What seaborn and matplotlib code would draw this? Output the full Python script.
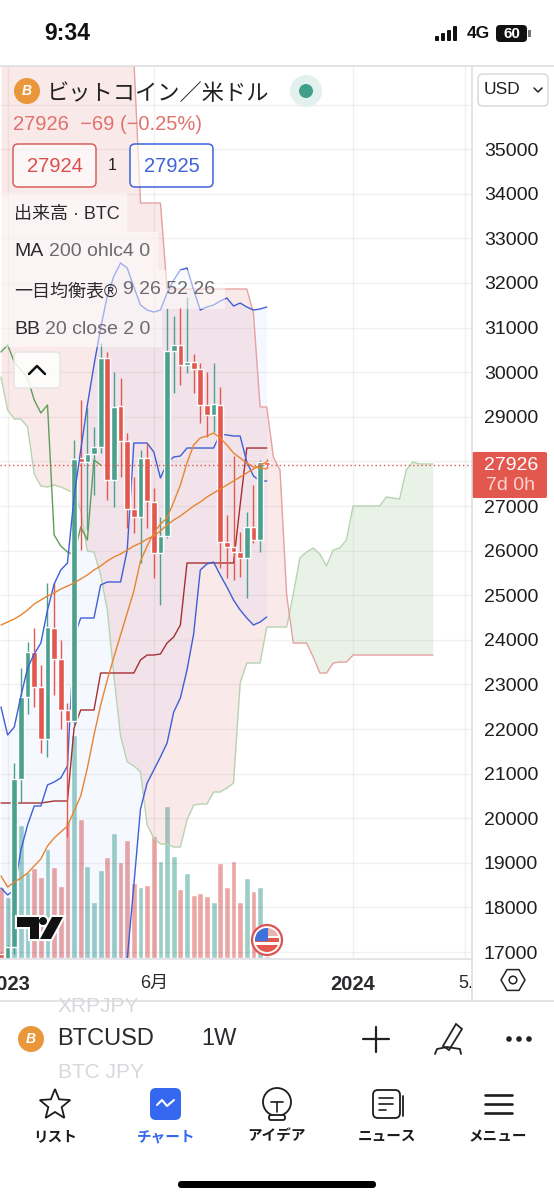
import matplotlib
matplotlib.use("Agg")
import matplotlib.pyplot as plt
import numpy as np
import pandas as pd
import seaborn as sns
from matplotlib.patches import Circle, FancyBboxPatch, Polygon, Rectangle

# weekly candles, BTCUSD
opens = [16960, 16800, 17113, 20879, 22718, 23727, 22942, 21776, 24265, 23570, 22426, 22180, 28076, 27986, 28166,
         28323, 30318, 27583, 29242, 28457, 26933, 26753, 28076, 27090, 25946, 26327, 30475, 30610, 30161, 30228,
         30072, 29264, 29040, 29264, 26193, 26081, 25969, 25834, 26529, 26238, 27995]
closes = [16866, 17113, 20879, 22718, 23727, 22942, 21776, 24287, 23570, 22426, 22180, 28054, 27986, 28166, 28323,
          30318, 27583, 29220, 28457, 26933, 26753, 28076, 27112, 25946, 26327, 30475, 30610, 30161, 30228, 30072,
          29264, 29040, 29287, 26193, 26081, 25969, 25834, 26529, 26238, 27986, 27926]
highs = [17000, 17150, 21238, 23368, 23951, 24265, 23435, 25274, 25274, 23996, 22583, 28480, 29377, 29197, 28771,
         30654, 30453, 30004, 29870, 28637, 27650, 28256, 28412, 27404, 26753, 31439, 31260, 31462, 31686, 30408,
         30206, 30004, 30206, 29668, 26798, 28121, 26417, 26865, 27471, 28031, 28050]
lows = [16800, 16780, 16950, 20364, 22337, 22494, 21462, 21373, 22763, 22000, 19579, 22100, 26013, 26462, 27247,
        28188, 27135, 26978, 27650, 26507, 26395, 25722, 26507, 25386, 24780, 26283, 29533, 29713, 29982, 29533,
        28861, 28547, 28659, 25610, 25386, 25341, 25408, 24937, 26170, 25969, 27850]
volumes = [212, 182, 232, 400, 257, 269, 244, 327, 272, 216, 407, 669, 417, 275, 169, 264, 304, 374, 287, 354, 225,
           214, 219, 367, 292, 456, 305, 206, 255, 189, 196, 186, 169, 284, 214, 292, 169, 240, 200, 214, 7]

ma200 = [24332, 24399, 24467, 24556, 24668, 24803, 24893, 24982, 25049, 25139, 25206, 25274, 25363, 25453, 25565,
         25655, 25767, 25857, 25924, 26013, 26103, 26170, 26260, 26327, 26440, 26574, 26686, 26776, 26888, 27000,
         27090, 27202, 27291, 27381, 27471, 27561, 27650, 27740, 27830, 27919, 27986]
bb_basis = [18705, 18458, 18570, 18660, 18772, 18929, 19086, 19377, 19557, 19691, 19826, 20162, 20498, 21126, 21866,
            22538, 23099, 23615, 24108, 24601, 25094, 25767, 26103, 26395, 26596, 26731, 27090, 27471, 27964, 28368,
            28525, 28569, 28637, 28525, 28368, 28188, 28076, 27964, 27874, 27852, 27830]
bb_upper = [22494, 21866, 22045, 22740, 23368, 23682, 23928, 24668, 25251, 25565, 25722, 27202, 28256, 29264, 30161,
            30991, 31708, 32157, 32448, 32336, 31910, 31506, 31394, 31349, 31394, 31775, 32067, 32291, 32336, 31843,
            31394, 31462, 31506, 31596, 31663, 31484, 31551, 31462, 31394, 31417, 31462]
bb_lower = [15400, 15300, 15000, 14700, 14500, 14400, 14300, 14500, 14700, 14800, 14900, 14600, 14800, 15000, 15300,
            15600, 15900, 16200, 16400, 16844, 18503, 20207, 20790, 21081, 21373, 21686, 22381, 22695, 23323, 24130,
            25565, 25700, 25744, 25453, 25184, 24893, 24668, 24489, 24332, 24399, 24511]
tenkan = [18436, 18279, 18391, 19288, 19848, 20274, 20274, 20745, 20812, 20902, 21171, 24063, 24489, 24489, 24489,
          25229, 25296, 25296, 25296, 26013, 28412, 28412, 28412, 28211, 27628, 27964, 28099, 28121, 28300, 28300,
          28300, 28300, 28300, 28614, 28592, 28569, 28569, 27986, 27673, 27560, 27560]
kijun = [20341, 20341, 20341, 20341, 20341, 20341, 20341, 20363, 20386, 20386, 20386, 22023, 22426, 22426, 22426,
         23256, 23256, 23256, 23256, 23256, 23256, 23547, 23659, 23659, 23682, 23928, 24063, 24332, 25722, 25722,
         25722, 25722, 25722, 25722, 25722, 25722, 27022, 28300, 28300, 28300, 28300]
chikou = [30453, 30610, 30228, 30049, 29870, 29377, 29085, 29264, 26350, 26103, 25969, 25901, 26529, 26238, 28031, 27919]
senkou_a = [29892, 29152, 28951, 28951, 28771, 27717, 27448, 27426, 27471, 27426, 27359, 27291, 26910, 25991, 25969,
            25453, 24668, 23189, 21843, 21260, 21171, 21036, 19848, 19557, 19422, 19422, 19355, 19355, 19960, 20296,
            20319, 20319, 20588, 20588, 20678, 20790, 23032, 23480, 23480, 23480, 24287, 24287, 24287, 24287, 25027,
            25834, 25969, 26058, 25924, 25655, 26013, 26058, 26238, 27000, 27000, 27000, 27000, 27000, 27202, 27179,
            27157, 27807, 27986, 27942, 27942, 27942]
senkou_b = [41000] * 20 + [37000, 33793, 33793, 33793, 33793] + [31865] * 13 + [31327, 29220, 29220, 28099, 27807,
            25005, 23928, 23928, 23928, 23615, 23256, 23256, 23480, 23502, 23502] + [23659] * 13

last_price = 27926
price_ticks = list(range(17000, 37000, 1000))
price_labels = [str(p) for p in price_ticks[:-1]] + [""]
date_ticks = [1, 23, 53, 69.9]
date_labels = ["2023", "6月", "2024", "5."]

GREEN, RED = "#4ba08e", "#e2584f"
BLUE = "#3f5fd6"

sns.set_theme(style="white")
plt.rcParams["font.family"] = ["Liberation Sans", "Noto Sans CJK JP", "DejaVu Sans"]

fig = plt.figure(figsize=(5.54, 12), dpi=100, facecolor="white")
ax_vol = fig.add_axes([0, 242 / 1200, 472 / 554, 892 / 1200], zorder=1)
ax = ax_vol.twinx()
ax.set_zorder(2)
ax.patch.set_visible(False)

df = pd.DataFrame({"week": range(len(volumes)), "volume": volumes,
                   "side": ["up" if c >= o else "down" for o, c in zip(opens, closes)]})
sns.barplot(data=df, x="week", y="volume", hue="side", native_scale=True, dodge=False, width=0.88, saturation=1,
            palette={"up": "#9bcfc6", "down": "#eca6a4"}, legend=False, ax=ax_vol)
ax_vol.set_ylim(0, 2676)
ax_vol.set(xlabel="", ylabel="", yticks=[])
ax_vol.xaxis.set_visible(False)
ax.xaxis.set_visible(True)

# cloud and bollinger fill
cloud_x = np.arange(len(senkou_a))
a, b = np.array(senkou_a), np.array(senkou_b)
ax.fill_between(cloud_x, a, b, where=b >= a, interpolate=True, color="#e06666", alpha=0.14, lw=0, zorder=1)
ax.fill_between(cloud_x, a, b, where=a >= b, interpolate=True, color="#62a85a", alpha=0.14, lw=0, zorder=1)
ax.fill_between(range(len(bb_upper)), bb_lower, bb_upper, color="#2962ff", alpha=0.04, lw=0, zorder=1)


def draw_line(values, color, lw=1.0, z=2):
    sns.lineplot(x=range(len(values)), y=values, color=color, linewidth=lw, estimator=None, sort=False,
                 legend=False, zorder=z, ax=ax)


draw_line(senkou_a, "#b6d4b0")
draw_line(senkou_b, "#e5a2a2")
draw_line(chikou, "#5f9e56")
draw_line(kijun, "#a52f33")
draw_line(tenkan, BLUE)

colors = [GREEN if c >= o else RED for o, c in zip(opens, closes)]
weeks = range(len(opens))
ax.vlines(weeks, lows, highs, colors=colors, linewidth=1.0, zorder=3)
ax.bar(weeks, np.abs(np.subtract(closes, opens)), bottom=np.minimum(opens, closes), width=0.86, color=colors, zorder=3)

draw_line(bb_upper, BLUE, z=4)
draw_line(bb_lower, BLUE, z=4)
draw_line(bb_basis, "#e8842f", z=4)
draw_line(ma200, "#e8842f", z=4)
ax.axhline(last_price, color=RED, lw=1, ls=(0, (1, 2)), zorder=4)

ax.set_ylim(16866, 36865)
ax.set_xlim(-0.15, 70.9)
ax.set(xlabel="", ylabel="")
ax.yaxis.tick_right()
ax.set_yticks(price_ticks)
ax.set_yticklabels(price_labels)
ax.set_xticks(date_ticks)
ax.set_xticklabels(date_labels)
ax.tick_params(axis="y", length=0, pad=8.6, labelsize=14, labelcolor="#1e1e22")
ax.tick_params(axis="x", length=0, pad=12, labelsize=13, labelcolor="#2a2a2e")
for lab in ax.get_xticklabels():
    if lab.get_text().isdigit():
        lab.set_fontweight("bold")
        lab.set_fontsize(14.5)
ax.grid(True, color="black", alpha=0.055, lw=1, zorder=0)
ax.set_axisbelow(True)
for axis in (ax, ax_vol):
    sns.despine(ax=axis, left=True, right=True, top=True, bottom=True)

# app chrome, drawn in pixel coordinates
ui = fig.add_axes([0, 0, 1, 1], zorder=10)
ui.set_xlim(0, 554)
ui.set_ylim(1200, 0)
ui.axis("off")
ui.patch.set_visible(False)


def label(x, y, s, size=14, color="#1e1e22", ha="left", **kw):
    ui.text(x, y, s, fontsize=size, color=color, ha=ha, va="center", **kw)


def round_box(x0, y0, w, h, r, **kw):
    ui.add_patch(FancyBboxPatch((x0, y0), w, h, boxstyle=f"round,pad=0,rounding_size={r}", **kw))


def btc_icon(x, y):
    ui.add_patch(Circle((x, y), 13, color="#e9973a", lw=0))
    label(x, y, "B", size=10, color="white", ha="center", fontweight="bold", style="italic")


# status bar
label(44, 33, "9:34", size=16.5, color="#111", fontweight="bold")
for bar_x, bar_h in zip([435, 441, 447, 453], [5, 8, 11, 15]):
    round_box(bar_x, 41 - bar_h, 4, bar_h, 1, color="#111", lw=0)
label(467, 34, "4G", size=12.5, color="#111", fontweight="bold")
round_box(496, 25, 31, 17, 4, color="#111", lw=0)
ui.add_patch(Rectangle((528, 30), 2.5, 7, color="#777", lw=0))
label(511.5, 33.5, "60", size=11, color="white", ha="center", fontweight="bold")

# legend block
for top, bottom, right in [(193, 232, 127), (232, 270, 158), (270, 309, 225), (309, 347, 162)]:
    ui.add_patch(Rectangle((0, top), right, bottom - top, color="white", alpha=0.5, lw=0))
btc_icon(27, 91)
label(47, 94, "ビットコイン／米ドル", size=16, color="#222")
ui.add_patch(Circle((306, 91), 16, color="#e3f1ee", lw=0))
ui.add_patch(Circle((306, 91), 7, color="#3f9f8a", lw=0))
label(13, 124, "27926  −69 (−0.25%)", size=14.5, color="#e0716c")
round_box(13, 144, 83, 43, 5, fc=(1, 1, 1, 0.6), ec="#d9605c", lw=1.1)
label(54.5, 166, "27924", size=14.5, color="#d9504c", ha="center")
label(112, 166, "1", size=11.5, ha="center")
round_box(130, 144, 83, 43, 5, fc=(1, 1, 1, 0.6), ec="#3f63d8", lw=1.1)
label(171.5, 166, "27925", size=14.5, color="#3f63d8", ha="center")
label(14, 215, "出来高 · BTC", size=13, color="#2a2a2e")
label(14, 252, "MA", size=14, color="#2a2a2e")
label(49, 252, "200 ohlc4 0", size=14, color="#6a6a70")
label(14, 292, "一目均衡表®", size=13, color="#2a2a2e")
label(123, 290, "9 26 52 26", size=14, color="#6a6a70")
label(14, 329, "BB", size=14, color="#2a2a2e")
label(45, 329, "20 close 2 0", size=14, color="#6a6a70")
round_box(14, 352, 46, 36, 4, fc=(1, 1, 1, 0.85), ec="#e2e3e6", lw=1)
ui.plot([29, 37, 45], [374, 366, 374], color="#111", lw=1.8)

# USD selector and price box
round_box(478, 74, 70, 32, 5, fc="white", ec="#d5d6da", lw=1)
label(484, 90, "USD", size=12.5)
ui.plot([534, 538, 542], [88, 92, 88], color="#222", lw=1.1)
round_box(472, 452, 75, 46, 2, color=RED, lw=0)
label(511, 465, "27926", size=14, color="white", ha="center")
label(511, 486, "7d 0h", size=14, color="#fbd3d0", ha="center")

# tradingview logo
for lw, fc, ec in [(3, "white", "white"), (0, "#111", "#111")]:
    ui.add_patch(Polygon([(17, 917), (39, 917), (39, 939), (30, 939), (30, 927), (17, 927)], fc=fc, ec=ec, lw=lw))
    ui.add_patch(Circle((43, 921), 4, fc=fc, ec=ec, lw=lw))
    ui.add_patch(Polygon([(52, 917), (63, 917), (51, 939), (40, 939)], fc=fc, ec=ec, lw=lw))

# event flag
ui.add_patch(Circle((267, 940), 15, fc="white", ec="#d9534f", lw=1.6))
clip = Circle((267, 940), 12, transform=ui.transData)
for x0, y0, w, h, c in [(255, 928, 24, 8, "#e8b5b2"), (255, 938, 24, 4, "#e2584f"), (255, 945, 24, 7, "#e2584f"),
                        (255, 928, 13, 13, "#3f72d8")]:
    ui.add_patch(Rectangle((x0, y0), w, h, color=c, lw=0, clip_path=clip))

# settings hexagon
angles = np.deg2rad(np.arange(0, 360, 60))
ui.add_patch(Polygon(np.c_[513 + 12 * np.cos(angles), 980 + 12 * np.sin(angles)], fc="none", ec="#222", lw=1.1))
ui.add_patch(Circle((513, 980), 3.8, fc="none", ec="#222", lw=1.1))

# symbol strip
label(58, 1006, "XRPJPY", size=15, color="#d8d8dc")
ui.add_patch(Rectangle((0, 990), 472, 11, color="white", lw=0))
label(58, 1073, "BTC JPY", size=15, color="#d8d8dc")
ui.add_patch(Rectangle((0, 1077), 554, 123, color="white", lw=0))
btc_icon(31, 1039)
label(57, 1039, "BTCUSD", size=17, color="#2a2a30")
label(201, 1039, "1W", size=17, color="#2a2a30")
ui.plot([363, 389], [1039, 1039], color="#222", lw=1.6)
ui.plot([376, 376], [1027, 1052], color="#222", lw=1.6)
ui.add_patch(Polygon([(443, 1046), (449, 1050), (462, 1029), (456, 1024)], fc="none", ec="#222", lw=1.3))
ui.plot([435, 437, 447, 460, 461], [1054, 1049, 1047, 1049, 1054], color="#222", lw=1.3)
for dot_x in [509, 519, 529]:
    ui.add_patch(Circle((dot_x, 1039), 2.8, color="#222", lw=0))

# frame lines
for seg in ([[0, 554], [66, 66]], [[472, 472], [66, 1001]], [[0, 472], [959, 959]], [[0, 554], [1001, 1001]]):
    ui.plot(seg[0], seg[1], color="#dcdde1", lw=1.1)

# bottom nav
star = np.deg2rad(np.arange(-90, 270, 36))
star_r = np.where(np.arange(10) % 2 == 0, 16, 7)
ui.add_patch(Polygon(np.c_[55 + star_r * np.cos(star), 1105 + star_r * np.sin(star)], fc="none", ec="#1c1c20", lw=1.3))
round_box(150, 1088, 31, 32, 6, color="#3567f0", lw=0)
ui.plot([157, 162, 167, 174], [1105, 1100, 1106, 1100], color="white", lw=1.5)
ui.add_patch(Circle((277, 1102), 14, fc="none", ec="#1c1c20", lw=1.3))
ui.plot([271, 283], [1102, 1102], color="#1c1c20", lw=1.2)
ui.plot([277, 277], [1102, 1112], color="#1c1c20", lw=1.2)
round_box(269, 1115, 16, 5, 2, fc="white", ec="#1c1c20", lw=1.3)
round_box(373, 1090, 27, 28, 5, fc="none", ec="#1c1c20", lw=1.3)
for line_y, right in [(1098, 393), (1104, 393), (1110, 386)]:
    ui.plot([379, right], [line_y, line_y], color="#1c1c20", lw=1.2)
ui.plot([403, 403], [1096, 1116], color="#1c1c20", lw=1.3)
for line_y in [1095, 1104, 1113]:
    ui.plot([485, 512], [line_y, line_y], color="#1c1c20", lw=1.9)
for nav_x, text, c in [(55, "リスト", "#1c1c20"), (166, "チャート", "#3567f0"), (277, "アイデア", "#1c1c20"),
                       (387, "ニュース", "#1c1c20"), (498, "メニュー", "#1c1c20")]:
    label(nav_x, 1137, text, size=10.5, color=c, ha="center", fontweight="bold")
round_box(178, 1181, 198, 7, 3.5, color="#000", lw=0)

fig.savefig("out.png", dpi=100, facecolor="white")
